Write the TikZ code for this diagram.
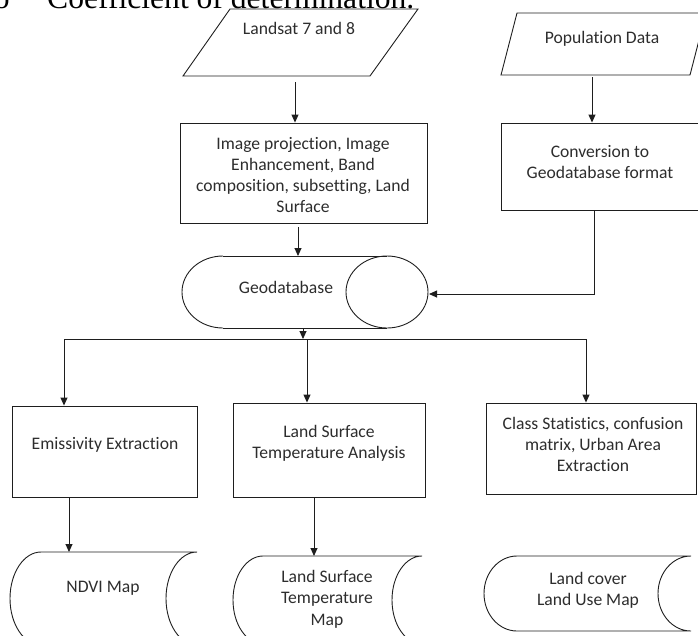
\documentclass[tikz,border=0pt]{standalone}
\usepackage{fontspec}
\setmainfont{Carlito}[Ligatures=NoCommon]
\newfontfamily\titlefont{Liberation Serif}
\usetikzlibrary{arrows.meta}
\definecolor{ink}{RGB}{30,30,30}
\definecolor{txt}{RGB}{45,45,45}
\newcommand{\storedshape}[5]{%
  \pgfmathsetmacro{\sdm}{(#3+#4)/2}%
  \pgfmathsetmacro{\sdr}{(#4-#3)/2}%
  \pgfmathsetmacro{\sdk}{0.5523*#5}%
  \pgfmathsetmacro{\sdq}{0.5523*\sdr}%
  \draw[shapeline] ({#1+#5},#3) -- (#2,#3)
    .. controls ({#2-\sdk},#3) and ({#2-#5},{\sdm-\sdq}) .. ({#2-#5},\sdm)
    .. controls ({#2-#5},{\sdm+\sdq}) and ({#2-\sdk},#4) .. (#2,#4)
    -- ({#1+#5},#4)
    .. controls ({#1+#5-\sdk},#4) and (#1,{\sdm+\sdq}) .. (#1,\sdm)
    .. controls (#1,{\sdm-\sdq}) and ({#1+#5-\sdk},#3) .. ({#1+#5},#3) -- cycle;
}
\begin{document}
\begin{tikzpicture}[x=1pt,y=-1pt,
  flow/.style={-{Triangle[length=8pt,width=7pt]}, draw=ink, line width=0.9pt},
  plainline/.style={draw=ink, line width=0.9pt},
  shapeline/.style={draw=ink, line width=0.9pt},
  lbl/.style={text=txt, font=\fontsize{17.6}{21.3}\selectfont, align=center, inner sep=0pt},
  box/.style={draw=ink, line width=0.9pt, rectangle, inner sep=0pt}]
\useasboundingbox (0,0) rectangle (698,635);
\clip (0,0) rectangle (698,635);

% heading fragment
\node[font=\titlefont\fontsize{31.6}{36}\selectfont, anchor=base east, inner sep=0pt] (bullet) at (10,8) {o};
\node[font=\titlefont\fontsize{31.6}{36}\selectfont, anchor=base west, inner sep=0pt] (title) at (47,8) {Coefficient of determination.};

% inputs
\draw[shapeline] (183,76) -- (370,76) -- (418,9) -- (230,9) -- cycle;
\node[lbl] (landsat) at (299,28) {Landsat 7 and 8};
\coordinate (landsatout) at (295,82);

\draw[shapeline] (501,75) -- (690,75) -- (706,13) -- (517,13) -- cycle;
\node[lbl] (pop) at (602,39) {Population Data};
\coordinate (popout) at (592,77);

% processing boxes
\node[box, minimum width=247pt, minimum height=100pt] (box1) at (303.5,173) {};
\node[lbl] (box1txt) at (303,175) {Image projection, Image\\Enhancement, Band\\composition, subsetting, Land\\Surface};

\node[box, minimum width=199pt, minimum height=87pt] (box2) at (600.5,166.5) {};
\node[lbl] (box2txt) at (600,162) {Conversion to\\Geodatabase format};

% geodatabase
\draw[shapeline] (223,256) -- (387,256);
\draw[shapeline] (223,328) -- (387,328);
\draw[shapeline] (223,256) .. controls (200.4,256) and (182,272.1) .. (182,292)
  .. controls (182,311.9) and (200.4,328) .. (223,328);
\draw[shapeline] (387,292) ellipse [x radius=41pt, y radius=36pt];
\node[lbl] (geo) at (286,287) {Geodatabase};
\coordinate (geotop) at (298,256);
\coordinate (geoin) at (429,294);
\coordinate (geobot) at (303,328);

% analysis boxes
\node[box, minimum width=185pt, minimum height=91pt] (emis) at (104.5,451.5) {};
\node[lbl] (emistxt) at (105,445) {Emissivity Extraction};

\node[box, minimum width=192pt, minimum height=94pt] (lst) at (329,450) {};
\node[lbl] (lsttxt) at (329,443.5) {Land Surface\\Temperature Analysis};

\node[box, minimum width=210pt, minimum height=91pt] (cls) at (591,448.5) {};
\node[lbl] (clstxt) at (593,444.5) {Class Statistics, confusion\\matrix, Urban Area\\Extraction};

% outputs
\storedshape{10}{197}{552}{645}{31}
\node[lbl] (ndvi) at (103,588) {NDVI Map};
\coordinate (ndvitop) at (69,552);

\storedshape{233}{422}{556}{644}{30}
\node[lbl] (lstmap) at (327,599) {Land Surface\\Temperature\\Map};
\coordinate (lstmaptop) at (314,556);

\storedshape{484}{691}{556}{631}{33}
\node[lbl] (lcmap) at (588,590) {Land cover\\Land Use Map};

% connectors
\draw[flow] (landsatout) -- (landsatout |- box1.north);
\coordinate (box1out) at (298,227);
\draw[flow] (box1out) -- (geotop);
\draw[flow] (popout) -- (popout |- box2.north);
\coordinate (box2out) at (594,210);
\draw[flow] (box2out) |- (geoin);

\coordinate (split) at (303,339);
\coordinate (splitL) at (64,339);
\coordinate (splitM) at (307,339);
\coordinate (splitR) at (586,339);
\draw[flow] (geobot) -- (split);
\draw[plainline] (splitL) -- (splitR);
\draw[flow] (splitL) -- (splitL |- emis.north);
\draw[flow] (splitM) -- (splitM |- lst.north);
\draw[flow] (splitR) -- (splitR |- cls.north);

\coordinate (emisout) at (69,497);
\draw[flow] (emisout) -- (ndvitop);
\coordinate (lstout) at (314,497);
\draw[flow] (lstout) -- (lstmaptop);
\end{tikzpicture}
\end{document}
